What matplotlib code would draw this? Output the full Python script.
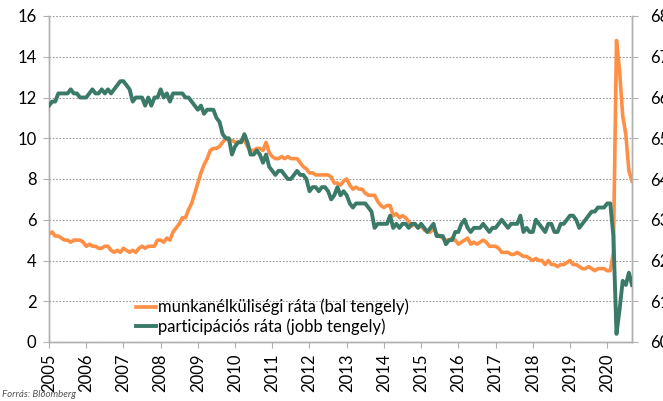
import matplotlib
matplotlib.use("Agg")
import matplotlib.pyplot as plt
import numpy as np

# Monthly data, Jan 2005 - Sep 2020
unemployment = [
    5.3, 5.4, 5.2, 5.2, 5.1, 5.0, 5.0, 4.9, 5.0, 5.0, 5.0, 4.9,   # 2005
    4.7, 4.8, 4.7, 4.7, 4.6, 4.6, 4.7, 4.7, 4.5, 4.4, 4.5, 4.4,   # 2006
    4.6, 4.5, 4.4, 4.5, 4.4, 4.6, 4.7, 4.6, 4.7, 4.7, 4.7, 5.0,   # 2007
    5.0, 4.9, 5.1, 5.0, 5.4, 5.6, 5.8, 6.1, 6.1, 6.5, 6.8, 7.3,   # 2008
    7.8, 8.3, 8.7, 9.0, 9.4, 9.5, 9.5, 9.6, 9.8, 10.0, 9.9, 9.9,  # 2009
    9.8, 9.8, 9.9, 9.9, 9.6, 9.4, 9.4, 9.5, 9.5, 9.4, 9.8, 9.3,   # 2010
    9.1, 9.0, 9.0, 9.1, 9.0, 9.1, 9.0, 9.0, 9.0, 8.8, 8.6, 8.5,   # 2011
    8.3, 8.3, 8.2, 8.2, 8.2, 8.2, 8.2, 8.1, 7.8, 7.8, 7.7, 7.9,   # 2012
    8.0, 7.7, 7.5, 7.6, 7.5, 7.5, 7.3, 7.2, 7.2, 7.2, 6.9, 6.7,   # 2013
    6.6, 6.7, 6.7, 6.2, 6.3, 6.1, 6.2, 6.1, 5.9, 5.7, 5.8, 5.6,   # 2014
    5.7, 5.5, 5.4, 5.4, 5.6, 5.3, 5.2, 5.1, 5.0, 5.0, 5.1, 5.0,   # 2015
    4.8, 4.9, 5.0, 5.1, 4.8, 4.9, 4.8, 4.9, 5.0, 4.9, 4.7, 4.7,   # 2016
    4.7, 4.6, 4.4, 4.4, 4.4, 4.3, 4.3, 4.4, 4.3, 4.2, 4.2, 4.1,   # 2017
    4.0, 4.1, 4.0, 4.0, 3.8, 4.0, 3.8, 3.8, 3.7, 3.8, 3.8, 3.9,   # 2018
    4.0, 3.8, 3.8, 3.7, 3.6, 3.6, 3.7, 3.6, 3.5, 3.6, 3.6, 3.6,   # 2019
    3.5, 3.5, 4.4, 14.8, 13.3, 11.1, 10.2, 8.4, 7.9,              # 2020
]
participation = [
    65.8, 65.9, 65.9, 66.1, 66.1, 66.1, 66.1, 66.2, 66.1, 66.1, 66.0, 66.0,  # 2005
    66.0, 66.1, 66.2, 66.1, 66.1, 66.2, 66.1, 66.2, 66.1, 66.2, 66.3, 66.4,  # 2006
    66.4, 66.3, 66.2, 65.9, 66.0, 66.0, 66.0, 65.8, 66.0, 65.8, 66.0, 66.0,  # 2007
    66.2, 66.0, 66.1, 65.9, 66.1, 66.1, 66.1, 66.1, 66.0, 66.0, 65.9, 65.8,  # 2008
    65.7, 65.8, 65.6, 65.7, 65.7, 65.7, 65.5, 65.4, 65.1, 65.0, 65.0, 64.6,  # 2009
    64.8, 64.9, 64.9, 65.1, 64.9, 64.6, 64.6, 64.7, 64.6, 64.4, 64.6, 64.3,  # 2010
    64.2, 64.1, 64.2, 64.2, 64.1, 64.0, 64.0, 64.1, 64.2, 64.1, 64.1, 64.0,  # 2011
    63.7, 63.8, 63.8, 63.7, 63.8, 63.8, 63.7, 63.5, 63.6, 63.8, 63.6, 63.7,  # 2012
    63.6, 63.4, 63.3, 63.4, 63.4, 63.4, 63.4, 63.3, 63.2, 62.8, 62.9, 62.9,  # 2013
    62.9, 62.9, 63.1, 62.8, 62.9, 62.8, 62.9, 62.9, 62.8, 62.9, 62.9, 62.8,  # 2014
    62.9, 62.8, 62.7, 62.8, 62.9, 62.6, 62.6, 62.6, 62.4, 62.5, 62.5, 62.7,  # 2015
    62.7, 62.9, 63.0, 62.8, 62.7, 62.8, 62.8, 62.8, 62.9, 62.8, 62.7, 62.8,  # 2016
    62.8, 62.9, 63.0, 62.9, 62.8, 62.9, 62.9, 62.9, 63.1, 62.7, 62.8, 62.7,  # 2017
    62.7, 63.0, 62.9, 62.8, 62.7, 62.9, 62.9, 62.7, 62.7, 62.9, 62.9, 63.0,  # 2018
    63.1, 63.1, 63.0, 62.8, 62.9, 63.0, 63.1, 63.2, 63.2, 63.3, 63.3, 63.3,  # 2019
    63.4, 63.4, 62.6, 60.2, 60.8, 61.5, 61.4, 61.7, 61.4,                    # 2020
]
years = list(range(2005, 2021))
label_u = "munkanélküliségi ráta (bal tengely)"
label_p = "participációs ráta (jobb tengely)"
source = "Forrás: Bloomberg"

plt.rcParams['font.family'] = ['Lato', 'DejaVu Sans']

fig = plt.figure(figsize=(6.63, 4.01), dpi=100)
ax = fig.add_axes([49/663, 1-342/401, (632-49)/663, (342-16)/401])
ax2 = ax.twinx()

x = 2005 + np.arange(len(unemployment)) / 12.0
orange = "#FF8F45"
green = "#3B7A68"
grey = "#B0B0B0"

l1, = ax.plot(x, unemployment, color=orange, lw=2.6, solid_joinstyle='round', zorder=3)
l2, = ax2.plot(x, participation, color=green, lw=2.8, solid_joinstyle='round', zorder=3)

ax.set_xlim(2005, 2005 + 188/12)
ax.set_ylim(0, 16)
ax2.set_ylim(60, 68)
ax.set_yticks(range(0, 17, 2))
ax2.set_yticks(range(60, 69, 1))
ax.set_xticks(years)
ax.set_xticklabels([str(y) for y in years], rotation=90, fontsize=12)
ax.tick_params(axis='y', labelsize=12, length=4, color=grey, pad=5)
ax2.tick_params(axis='y', labelsize=12, length=4, color=grey, pad=9)
ax.tick_params(axis='x', length=4, color=grey, pad=4)

ax.grid(axis='y', linestyle=(0, (1.5, 1.5)), color='#999999', lw=0.8)
for a in (ax, ax2):
    a.spines['top'].set_visible(False)
    for s in ('left', 'right', 'bottom'):
        a.spines[s].set_color(grey)
        a.spines[s].set_linewidth(1.0)

ax.legend([l1, l2], [label_u, label_p], loc='lower left',
          bbox_to_anchor=(0.135, -0.005), frameon=False, fontsize=12,
          handlelength=1.2, handletextpad=0.1, labelspacing=0.2,
          borderaxespad=0.1)

fig.text(0.003, 0.005, source, fontsize=7, style='italic', color='#555555',
         ha='left', va='bottom')

fig.savefig("out.png", dpi=100)
